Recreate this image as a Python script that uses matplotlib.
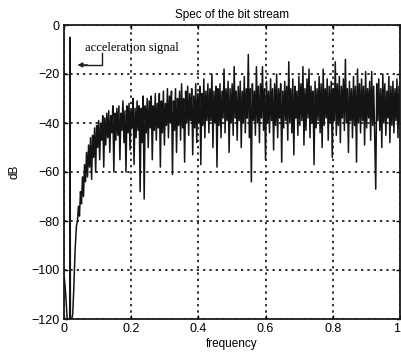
import numpy as np
import matplotlib.pyplot as plt

# low-frequency part (DC region + the acceleration signal line)
low_freq = [0.000, 0.003, 0.006, 0.010, 0.014, 0.017, 0.018, 0.019, 0.022, 0.026,
            0.029, 0.033, 0.037]
low_db = [-102, -106, -112, -121, -121, -121, -5, -121, -121, -118,
          -108, -92, -82]

# noise floor of the bit stream, 0.04 .. 1.0 (evenly sampled)
trace_db = [
    -80, -74, -78, -68, -73, -62, -70, -57, -64, -52,
    -62, -49, -58, -46, -63, -45, -54, -42, -60, -41,
    -50, -39, -55, -40, -47, -37, -58, -38, -49, -36,
    -46, -35, -52, -37, -44, -33, -60, -36, -47, -34,
    -45, -33, -55, -36, -43, -31, -48, -35, -60, -33,
    -44, -32, -51, -35, -42, -30, -57, -34, -46, -31,
    -43, -33, -68, -34, -48, -29, -71, -33, -44, -30,
    -50, -31, -42, -29, -55, -33, -43, -28, -47, -32,
    -42, -28, -58, -31, -44, -27, -49, -32, -41, -26,
    -46, -29, -40, -27, -61, -31, -43, -26, -52, -30,
    -41, -27, -47, -24, -42, -30, -56, -27, -40, -25,
    -45, -28, -39, -26, -53, -29, -42, -24, -48, -28,
    -40, -25, -57, -28, -41, -22, -46, -27, -39, -24,
    -44, -26, -39, -20, -50, -27, -40, -25, -58, -26,
    -41, -24, -46, -27, -38, -18, -44, -26, -39, -23,
    -52, -26, -40, -24, -45, -17, -38, -27, -47, -25,
    -39, -23, -50, -27, -40, -21, -44, -26, -38, -12,
    -46, -26, -64, -24, -39, -27, -45, -17, -40, -25,
    -48, -24, -38, -17, -43, -26, -55, -23, -40, -27,
    -44, -22, -39, -26, -51, -24, -41, -20, -46, -26,
    -38, -24, -56, -27, -42, -23, -39, -25, -47, -15,
    -40, -26, -44, -22, -53, -25, -38, -27, -45, -21,
    -41, -24, -39, -17, -49, -26, -43, -22, -38, -18,
    -46, -25, -40, -27, -57, -23, -42, -26, -39, -21,
    -44, -24, -50, -18, -41, -26, -38, -22, -47, -25,
    -40, -23, -54, -26, -39, -15, -45, -24, -41, -21,
    -48, -25, -38, -22, -43, -14, -40, -26, -52, -23,
    -39, -26, -46, -21, -41, -25, -56, -18, -40, -24,
    -44, -22, -39, -25, -49, -19, -42, -26, -38, -23,
    -47, -19, -41, -25, -45, -67, -24, -39, -22, -43,
    -26, -50, -20, -40, -24, -45, -27, -38, -21, -48,
    -25, -41, -23, -44, -26, -39, -22, -46, -25, -40,
]
trace_start, trace_end = 0.04, 1.0

xticks = [0, 0.2, 0.4, 0.6, 0.8, 1.0]
xticklabels = ['0', '0.2', '0.4', '0.6', '0.8', '1']
yticks = [0, -20, -40, -60, -80, -100, -120]

plt.rcParams['font.family'] = ['Liberation Sans', 'DejaVu Sans']

trace_freq = np.linspace(trace_start, trace_end, len(trace_db))
freq = np.concatenate([low_freq, trace_freq])
db = np.concatenate([low_db, trace_db])

fig = plt.figure(figsize=(4.02, 3.59), dpi=100)
ax = fig.add_axes([64 / 402, 40 / 359, 336 / 402, 294 / 359])

ax.plot(freq, db, color='#141414', lw=1.1)

ax.set_xlim(0, 1)
ax.set_ylim(-120, 0)
ax.set_xticks(xticks)
ax.set_xticklabels(xticklabels)
ax.set_yticks(yticks)
ax.tick_params(direction='in', length=3, width=1, labelsize=9, top=True, right=True, pad=3)
ax.get_xticklabels()[-1].set_horizontalalignment('right')
ax.grid(True, color='#222222', linestyle=(0, (1.3, 2.2)), lw=1.3)
for s in ax.spines.values():
    s.set_linewidth(1.3)
    s.set_color('#1a1a1a')

ax.set_title('Spec of the bit stream', fontsize=8.5, pad=5)
ax.set_xlabel('frequency', fontsize=8.5, labelpad=2)
ax.set_ylabel('dB', fontsize=8.5, labelpad=8)

# annotation for the signal line
ax.text(0.062, -9.4, 'acceleration signal', family=['Liberation Serif', 'DejaVu Serif'],
        fontsize=9, va='center', ha='left')
ax.plot([0.113, 0.113, 0.06], [-11.4, -16.3, -16.3], color='#1e1e1e', lw=1.0)
ax.annotate('', xy=(0.04, -16.3), xytext=(0.07, -16.3),
            arrowprops=dict(arrowstyle='-|>', color='#1e1e1e', lw=1.0,
                            mutation_scale=7, shrinkA=0, shrinkB=0))

fig.savefig('out.png', dpi=100)
